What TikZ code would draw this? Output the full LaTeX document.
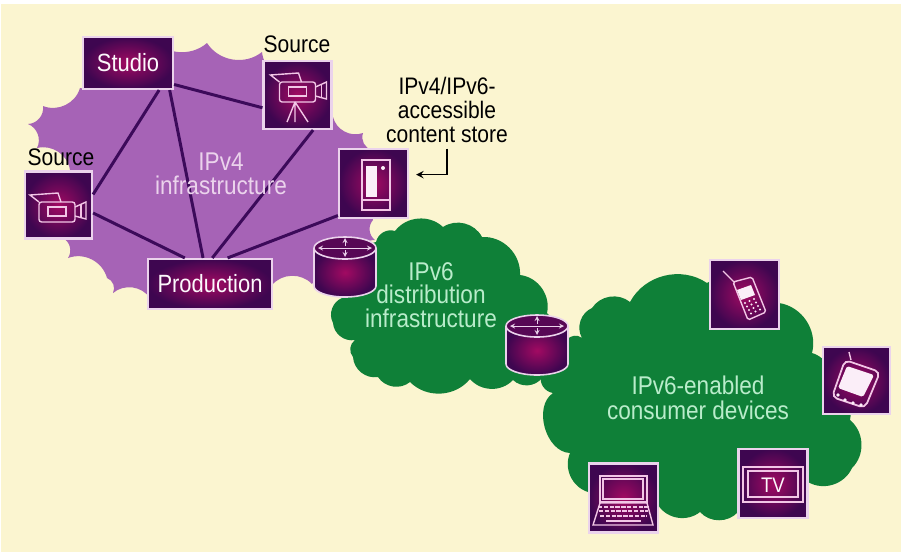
\documentclass[tikz,border=0pt]{standalone}
\usepackage{fontspec}
\setmainfont[FakeStretch=0.88]{Liberation Sans}
\usepackage{tikz}
\usetikzlibrary{arrows}

\definecolor{paper}{HTML}{FBF5D0}
\definecolor{purplecloud}{HTML}{A663B6}
\definecolor{greencloud}{HTML}{0F8038}
\definecolor{boxdark}{HTML}{3E0650}
\definecolor{boxmid}{HTML}{A20A62}
\definecolor{boxedge}{HTML}{EBD3EC}
\definecolor{linkcolor}{HTML}{3C0A5A}
\definecolor{iconline}{HTML}{F2C6E6}
\definecolor{minttext}{HTML}{B9ECCB}

\tikzset{
  bump/.style={bend left=#1},
  bump/.default=48,
  iconbox/.style={draw=boxedge,line width=1.2pt,inner color=boxmid,outer color=boxdark,
    inner sep=0pt,text=white!85!boxedge,font=\fontsize{14.2}{15}\selectfont},
  iconline/.style={draw=iconline,line width=0.8pt},
  iconfill/.style={fill=white!70!iconline},
  link/.style={draw=linkcolor,line width=1.7pt},
  toptext/.style={text=black,align=center,font=\fontsize{13.6}{13.5}\selectfont},
  pinktext/.style={text=boxedge,align=center,font=\fontsize{14.6}{13.5}\selectfont},
  greentext/.style={text=minttext,align=center,font=\fontsize{14.6}{13.2}\selectfont},
}

\newcommand{\drawcamera}[2]
{
  \draw [iconline,rounded corners=1.5pt] (#1-18,#2-10) rectangle (#1+18,#2+10);
  \draw [iconline] (#1-9,#2-5) rectangle (#1+9,#2+4);
  \draw [iconline] (#1+18,#2-5) -- (#1+29,#2-10) -- (#1+29,#2+7) -- (#1+18,#2+4);
  \draw [iconline] (#1+24,#2-8) -- (#1+24,#2+5);
  \draw [iconline] (#1-18,#2-10) -- (#1-27,#2-17) -- (#1+1,#2-19) -- (#1+4,#2-10);
}
\newcommand{\drawrouter}[2]
{
  % body first, then the lid with its arrows
  \draw [draw=boxedge,line width=0.9pt,inner color=boxmid,outer color=boxdark]
    (#1-31,#2-19) -- (#1-31,#2+19) arc (180:0:31 and 11) -- (#1+31,#2-19);
  \draw [draw=boxedge,line width=0.9pt,fill=boxdark!75!boxmid] (#1,#2-19) ellipse (31 and 11);
  \draw [<->,>=stealth,boxedge,line width=0.3pt] (#1-27,#2-19) -- (#1+27,#2-19);
  \draw [->,>=stealth,boxedge,line width=0.3pt] (#1,#2-21) -- (#1,#2-29);
  \draw [->,>=stealth,boxedge,line width=0.3pt] (#1,#2-17) -- (#1,#2-10);
}

\begin{document}
\begin{tikzpicture}[x=0.02cm,y=-0.02cm]
    \useasboundingbox (0,0) rectangle (901,552);
    \fill [white] (0,0) rectangle (901,552);
    \fill [paper] (1,4) rectangle (901,552);

    % the three clouds
    \fill [purplecloud] (80,88) to[bump] (43,106) to[bump] (28,124) to[bump] (37,148)
      to[bump] (70,170) to[bump] (63,238) to[bump] (68,258) to[bump] (107,278)
      to[bump] (113,293) to[bump] (150,298) to[bump] (210,300) to[bump] (272,285)
      to[bump] (312,284) to[bump] (345,275) to[bump] (375,240) to[bump] (373,220)
      to[bump] (390,190) to[bump] (372,150) to[bump] (363,133) to[bump] (333,117)
      to[bump] (300,80) to[bump] (262,52) to[bump] (207,43) to[bump] (150,36)
      to[bump] cycle;
    \fill [greencloud] (376,242) to[bump] (395,231) to[bump] (443,227) to[bump] (482,237)
      to[bump] (520,275) to[bump] (547,313) to[bump] (545,360) to[bump] (542,378)
      to[bump] (513,380) to[bump] (470,379) to[bump] (410,382) to[bump] (378,377)
      to[bump] (353,357) to[bump] (355,340) to[bump] (333,323) to[bump] (342,298)
      to[bump] cycle;
    \fill [greencloud] (567,340) to[bump] (582,338) to[bump] (592,308) to[bump] (630,302)
      to[bump] (707,283) to[bump] (779,303) to[bump] (812,353)
      to[bump] (830,390) to[bump] (850,420) to[bump] (852,468) to[bump] (808,482)
      to[bump] (738,512) to[bump] (700,512) to[bump] (658,505) to[bump] (588,492)
      to[bump] (570,453) to[bump=72] (553,393) to[bump] (541,375) to[bump] cycle;

    \node[iconbox,minimum width=90*0.02cm,minimum height=52*0.02cm] (studio) at (128,63) {Studio};
    \node[iconbox,minimum width=124*0.02cm,minimum height=50*0.02cm] (production) at (210,284) {Production};
    \node[iconbox,minimum size=68*0.02cm] (camtop) at (297.5,95) {};
    \node[iconbox,minimum size=67*0.02cm] (camleft) at (58.5,205) {};
    \node[iconbox,minimum size=69*0.02cm] (store) at (373.5,183.5) {};
    \node[iconbox,minimum size=69*0.02cm] (phone) at (744.5,294.5) {};
    \node[iconbox,minimum size=67*0.02cm] (pda) at (856.5,380.5) {};
    \node[iconbox,minimum size=69*0.02cm] (tv) at (773,483.5) {};
    \node[iconbox,minimum size=69*0.02cm] (laptop) at (623.5,498) {};

    \draw [link] (studio.-25) -- (camtop.200);
    \draw [link] (studio.-41) -- (camleft.17);
    \draw [link] (studio.-33) -- (production.105);
    \draw [link] (camleft.-13) -- (production.134);
    \draw [link] (camtop.-66) -- (production.85);
    \draw [link] (store.222) -- (production.56);

    \drawrouter{345}{267}
    \drawrouter{537}{345}

    % labels
    \node[toptext] (srctoplabel) at (297,44) {Source};
    \node[toptext] (srcleftlabel) at (61,157) {Source};
    \node[toptext] (storelabel) at (447,110) {IPv4/IPv6-\\accessible\\content store};
    \node[pinktext] (ipvfour) at (221,174) {IPv4\\infrastructure};
    \node[greentext] (ipvsix) at (431,295) {IPv6\\distribution\\infrastructure};
    \node[greentext,font=\fontsize{14.6}{14.3}\selectfont] (devices) at (698,398) {IPv6-enabled\\consumer devices};

    \draw [->,>=stealth,line width=0.9pt,shorten >=7*0.02cm] (storelabel.south) |- (store.14);

    % cameras
    \drawcamera{297.5}{92}
    \draw [iconline] (295,102) -- (287,122) (295,102) -- (295,122) (295,102) -- (308,122);
    \drawcamera{57}{212}

    % store
    \draw [iconline] (362,160) rectangle (390,210);
    \fill [iconfill] (366,166) rectangle (377,197);
    \fill [iconfill] (383,168) circle (2);
    \draw [iconline] (362,200) -- (390,200);

    % phone
    \draw [iconline,rounded corners=1pt] (733,282) -- (752,277) -- (766,312) -- (748,320) -- cycle;
    \draw [iconline] (723,271) -- (734,282);
    \fill [iconfill] (737,290) -- (751,285) -- (755,295) -- (741,300) -- cycle;
    \foreach \i in {0,1,2}
      \foreach \j in {0,1,2,3}
        \fill [iconfill] (745+\i*4.5+\j*2,303-\i*2+\j*3.5) circle (1.1);

    % pda
    \draw [iconline,rounded corners=3pt,line width=1pt] (845,360) -- (880,372) -- (865,408) -- (832,397) -- cycle;
    \draw [iconline] (849,352) -- (851,360);
    \fill [iconfill,rounded corners=1pt] (847,366) -- (874,375) -- (863,397) -- (838,388) -- cycle;
    \foreach \x/\y in {838/395,845/400,853/403,861/405}
      \fill [iconfill] (\x,\y) circle (1.8);

    % tv
    \draw [iconline] (743,467) rectangle (803,502);
    \draw [iconline] (748,471) rectangle (798,497);
    \node[text=white!85!boxedge,font=\fontsize{12}{12}\selectfont] (tvlabel) at (773,485) {TV};

    % laptop
    \draw [iconline] (600,476) rectangle (647,502);
    \draw [iconline] (603,479) rectangle (643,499);
    \draw [iconline] (600,503) -- (647,503) -- (653,525) -- (593,525) -- cycle;
    \foreach \y/\a in {507/2,511/1,516/0}
      \draw [iconline,dash pattern=on 2.5pt off 0.8pt] (600-\a*1,\y) -- (647+\a*1,\y);
    \draw [iconline] (606,521) -- (641,521);
\end{tikzpicture}
\end{document}
